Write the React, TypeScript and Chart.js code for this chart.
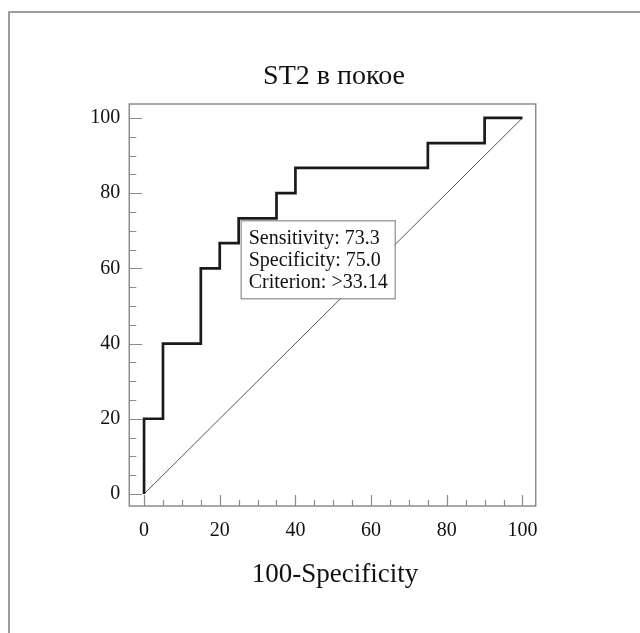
import React, { useEffect, useRef } from "react";
import { Chart, registerables } from "chart.js";

Chart.register(...registerables);

// ROC curve corner points (100-Specificity, Sensitivity)
const rocFpr: number[] = [0, 0, 5, 5, 15, 15, 20, 20, 25, 25, 35, 35, 40, 40, 75, 75, 90, 90, 100];
const rocSens: number[] = [0, 20, 20, 40, 40, 60, 60, 66.7, 66.7, 73.3, 73.3, 80, 80, 86.7, 86.7, 93.3, 93.3, 100, 100];
// reference diagonal
const diagX: number[] = [0, 100];
const diagY: number[] = [0, 100];

const majorTicks: number[] = [0, 20, 40, 60, 80, 100];
const minorTicks: number[] = [5, 10, 15, 25, 30, 35, 45, 50, 55, 65, 70, 75, 85, 90, 95];

const titleText = "ST2 в покое";
const xTitleText = "100-Specificity";
const criterionPoint = { x: 25, y: 73.3 };
const annotationLines: string[] = ["Sensitivity: 73.3", "Specificity: 75.0", "Criterion: >33.14"];

const SERIF = '"Liberation Serif", "Times New Roman", serif';
const GRAY = "#8c8c8c";
const INK = "#111111";

const decorPlugin = {
  id: "decor",
  beforeDatasetsDraw(chart: any) {
    const { ctx, chartArea: a, scales } = chart;
    const xs = scales.x;
    const ys = scales.y;
    ctx.save();
    // plot frame
    ctx.strokeStyle = GRAY;
    ctx.lineWidth = 1.5;
    ctx.strokeRect(a.left, a.top, a.right - a.left, a.bottom - a.top);
    // inward tick marks
    ctx.lineWidth = 1.2;
    ctx.beginPath();
    const all = [...majorTicks.map((v) => [v, 1]), ...minorTicks.map((v) => [v, 0])];
    for (const [v, major] of all) {
      const py = Math.round(ys.getPixelForValue(v)) + 0.5;
      ctx.moveTo(a.left, py);
      ctx.lineTo(a.left + (major ? 13 : 7), py);
      const px = Math.round(xs.getPixelForValue(v)) + 0.5;
      ctx.moveTo(px, a.bottom);
      ctx.lineTo(px, a.bottom - (major ? 11 : 6));
    }
    ctx.stroke();
    ctx.restore();
  },
  afterDraw(chart: any) {
    const { ctx, chartArea: a, scales } = chart;
    const cx = (a.left + a.right) / 2 + 1.5;
    ctx.save();
    ctx.fillStyle = INK;
    ctx.textAlign = "center";
    ctx.textBaseline = "alphabetic";
    ctx.font = `28px ${SERIF}`;
    ctx.fillText(titleText, cx, 84);
    ctx.font = `27px ${SERIF}`;
    ctx.fillText(xTitleText, cx + 1, 582);

    // annotation box anchored at the criterion point
    const px = scales.x.getPixelForValue(criterionPoint.x) + 2;
    const py = scales.y.getPixelForValue(criterionPoint.y) + 2;
    ctx.font = `20px ${SERIF}`;
    const w = Math.max(...annotationLines.map((t) => ctx.measureText(t).width)) + 15;
    const lh = 22;
    const h = annotationLines.length * lh + 12;
    ctx.fillStyle = "#ffffff";
    ctx.fillRect(px, py, w, h);
    ctx.strokeStyle = GRAY;
    ctx.lineWidth = 1.2;
    ctx.strokeRect(px + 0.5, py + 0.5, w, h);
    ctx.fillStyle = INK;
    ctx.textAlign = "left";
    annotationLines.forEach((t, i) => {
      ctx.fillText(t, px + 8, py + 24 + i * lh);
    });
    ctx.restore();
  },
};

export default function App() {
  const ref = useRef<HTMLCanvasElement | null>(null);

  useEffect(() => {
    if (!ref.current) return;
    const chart = new Chart(ref.current, {
      type: "scatter",
      data: {
        datasets: [
          {
            label: "ROC",
            data: rocFpr.map((x, i) => ({ x, y: rocSens[i] })),
            showLine: true,
            borderColor: "#1a1a1a",
            borderWidth: 2.7,
            pointRadius: 0,
            fill: false,
            tension: 0,
            order: 1,
          },
          {
            label: "Diagonal",
            data: diagX.map((x, i) => ({ x, y: diagY[i] })),
            showLine: true,
            borderColor: "#555555",
            borderWidth: 1,
            pointRadius: 0,
            fill: false,
            order: 2,
          },
        ],
      },
      options: {
        responsive: false,
        animation: false,
        layout: { padding: { left: 0, top: 104, right: 104.3, bottom: 67 } },
        plugins: {
          legend: { display: false },
          title: { display: false },
          tooltip: { enabled: false },
        },
        scales: {
          x: {
            type: "linear",
            min: -3.9,
            max: 103.5,
            grid: { display: false, drawTicks: false },
            border: { display: false },
            afterFit: (s: any) => {
              s.height = 60;
            },
            afterBuildTicks: (s: any) => {
              s.ticks = majorTicks.map((v) => ({ value: v }));
            },
            ticks: {
              padding: 13,
              color: INK,
              font: { family: SERIF, size: 20 },
              maxRotation: 0,
            },
          },
          y: {
            type: "linear",
            min: -3.2,
            max: 103.7,
            grid: { display: false, drawTicks: false },
            border: { display: false },
            afterFit: (s: any) => {
              s.width = 129.3;
            },
            afterBuildTicks: (s: any) => {
              s.ticks = majorTicks.map((v) => ({ value: v }));
            },
            ticks: {
              padding: 9,
              color: INK,
              font: { family: SERIF, size: 20 },
            },
          },
        },
      },
      plugins: [decorPlugin],
    });
    return () => chart.destroy();
  }, []);

  return (
    <div>
      <div
        style={{
          position: "fixed",
          left: 7.5,
          top: 11,
          width: 800,
          height: 800,
          borderLeft: "2.5px solid #9d9d9d",
          borderTop: "2.5px solid #9d9d9d",
        }}
      />
      <canvas
        ref={ref}
        width={640}
        height={633}
        style={{ position: "fixed", left: 0, top: 0, width: 640, height: 633 }}
      />
    </div>
  );
}
